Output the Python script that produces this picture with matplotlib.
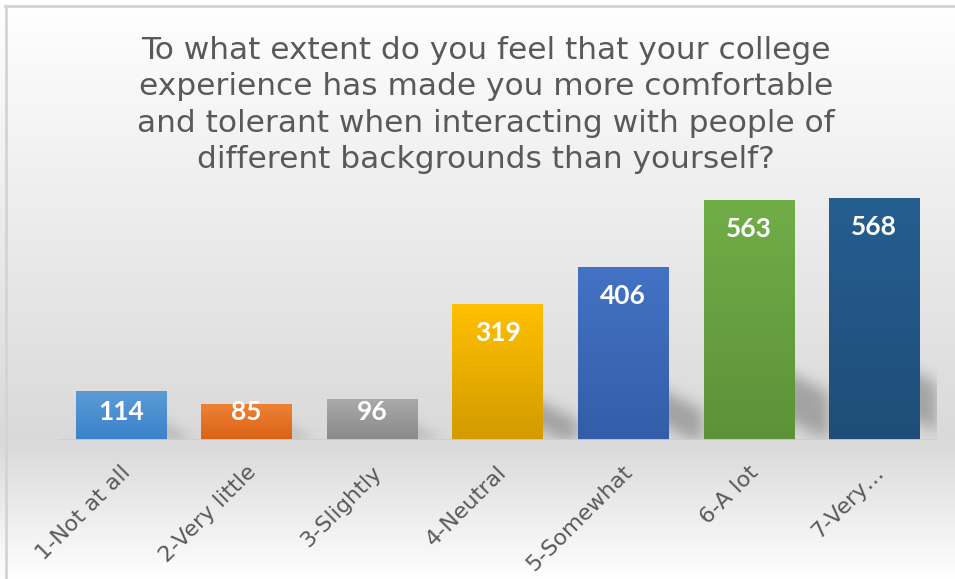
import numpy as np
import matplotlib.pyplot as plt
from matplotlib.colors import to_rgb
from matplotlib.lines import Line2D
from matplotlib.transforms import ScaledTranslation

categories = ["1-Not at all", "2-Very little", "3-Slightly", "4-Neutral",
              "5-Somewhat", "6-A lot", "7-Very…"]
counts = [114, 85, 96, 319, 406, 563, 568]
top_colors = ["#5b9bd5", "#ef8236", "#a9a9a9", "#ffc000", "#4472c4", "#70ad47", "#255e91"]
bottom_colors = ["#3a82cc", "#db6214", "#8a8a8a", "#d39b00", "#335da8", "#5d9239", "#1f4d78"]
title = ("To what extent do you feel that your college\n"
         "experience has made you more comfortable\n"
         "and tolerant when interacting with people of\n"
         "different backgrounds than yourself?")

W, H = 955, 579
fig = plt.figure(figsize=(W / 100, H / 100), dpi=100)

# background: white at the top, grey at the axis line, back to white at the bottom
base_row = 440
rows = np.arange(H)
shade = np.where(rows <= base_row,
                 255 - 38 * rows / base_row,
                 217 + 38 * (rows - base_row) / (H - base_row)) / 255
bg = fig.add_axes([0, 0, 1, 1], zorder=-10)
bg.imshow(np.dstack([np.repeat(shade[:, None], 2, axis=1)] * 3),
          aspect="auto", extent=[0, 1, 0, 1], interpolation="bilinear")
bg.set_axis_off()

# chart border (only top and left visible in the crop)
border = "#d4d4d4"
fig.add_artist(Line2D([5 / W, 1], [1 - 6 / H, 1 - 6 / H], color=border, lw=2))
fig.add_artist(Line2D([6 / W, 6 / W], [0, 1 - 6 / H], color=border, lw=2))

# plot area
left_px, right_px, top_px, bottom_px = 58.3, 937.0, 184.0, 440.0
ax = fig.add_axes([left_px / W, 1 - bottom_px / H,
                   (right_px - left_px) / W, (bottom_px - top_px) / H])
ax.set_facecolor("none")
ax.set_xlim(-0.5, len(categories) - 0.5)
ax.set_ylim(0, 600)
for s in ax.spines.values():
    s.set_visible(False)
ax.set_yticks([])

x = np.arange(len(categories))
bar_w = 0.72
px_x = (right_px - left_px) / len(categories)   # pixels per x unit
px_y = (bottom_px - top_px) / 600               # pixels per y unit

# soft diagonal shadow to the right of each bar
aw, ah = int(right_px - left_px), int(bottom_px - top_px)
gx, gy = np.meshgrid(np.arange(aw) + 0.5, np.arange(ah)[::-1] + 0.5)
mask = np.zeros((ah, aw))
for xi, v in zip(x, counts):
    xr = (xi + 0.5 + bar_w / 2) * px_x
    h = v * px_y
    d = gx - xr
    lo = 0.07 * h - 0.5 * d
    hi = 0.27 * h - 0.5 * d
    inside = (d > -15) & (d < 34) & (gy > lo) & (gy < hi)
    mask[inside] = 1.0
k = np.exp(-0.5 * (np.arange(-20, 21) / 7.0) ** 2)
k /= k.sum()
mask = np.apply_along_axis(lambda r: np.convolve(r, k, mode="same"), 1, mask)
mask = np.apply_along_axis(lambda c: np.convolve(c, k, mode="same"), 0, mask)
shadow = np.zeros((ah, aw, 4))
shadow[..., 3] = 0.26 * mask
ax.imshow(shadow, extent=[-0.5, len(categories) - 0.5, 0, 600],
          aspect="auto", zorder=1, interpolation="bilinear")

# gradient bars
bars = ax.bar(x, counts, width=bar_w, color="none", zorder=2)
for b, c_top, c_bot in zip(bars, top_colors, bottom_colors):
    t = np.linspace(0, 1, 64)[:, None, None]
    grad = (1 - t) * np.array(to_rgb(c_top)) + t * np.array(to_rgb(c_bot))
    im = ax.imshow(grad, extent=[b.get_x(), b.get_x() + b.get_width(), 0, b.get_height()],
                   aspect="auto", zorder=2, interpolation="bilinear")
    im.set_clip_path(b)

ax.axhline(0, color="#cdcdcd", lw=2, zorder=3)

# data labels: inside end, but never lower than a fixed height above the base
for xi, v in zip(x, counts):
    y_lab = max(v * px_y - 29, 28) / px_y
    ax.text(xi, y_lab, str(v), ha="center", va="center", color="white",
            fontsize=19, fontweight="bold", family="Lato", zorder=4)

ax.set_xticks(x)
ax.set_xticklabels(categories, rotation=45, ha="right", rotation_mode="anchor",
                   va="center", color="#595959", fontsize=16, family="DejaVu Sans")
ax.tick_params(axis="x", length=0, pad=21)
for lab in ax.get_xticklabels():
    lab.set_transform(lab.get_transform() + ScaledTranslation(6 / 100, 0, fig.dpi_scale_trans))

fig.text(486 / W, 1 - 105 / H, title, ha="center", va="center", color="#595959",
         fontsize=22.5, family="DejaVu Sans", linespacing=1.33)

fig.savefig("out.png", dpi=100)
